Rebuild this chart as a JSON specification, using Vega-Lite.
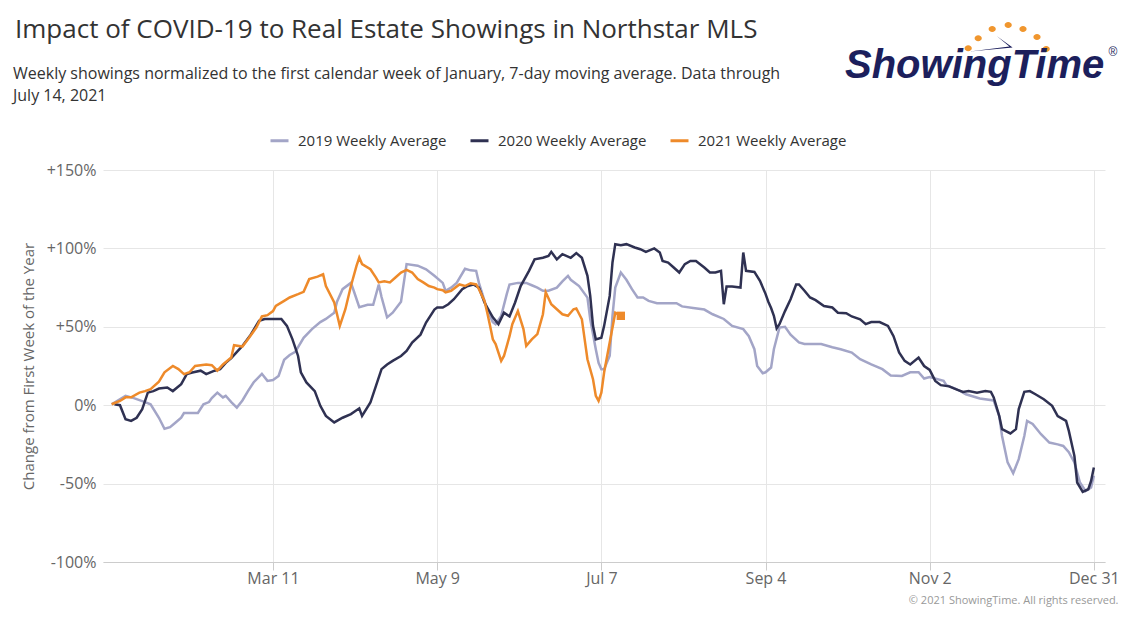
{
  "$schema": "https://vega.github.io/schema/vega-lite/v6.json",
  "width": 1002,
  "height": 392,
  "autosize": {"type": "none"},
  "padding": {"left": 103, "top": 170, "right": 38, "bottom": 58},
  "background": "#ffffff",
  "datasets": {
    "y2019": [
      {"day": 11, "pct": 0.6}, {"day": 16, "pct": 6}, {"day": 19, "pct": 4.5}, {"day": 23, "pct": 2}, {"day": 25, "pct": 0.6},
      {"day": 28, "pct": -8}, {"day": 30, "pct": -15}, {"day": 32, "pct": -14}, {"day": 34, "pct": -11}, {"day": 36, "pct": -8},
      {"day": 37, "pct": -5}, {"day": 39, "pct": -5}, {"day": 42, "pct": -5}, {"day": 44, "pct": 0.6}, {"day": 46, "pct": 2},
      {"day": 47, "pct": 4.5}, {"day": 49, "pct": 8}, {"day": 51, "pct": 5}, {"day": 52, "pct": 6}, {"day": 54, "pct": 2},
      {"day": 56, "pct": -1.5}, {"day": 58, "pct": 3}, {"day": 60, "pct": 9}, {"day": 62, "pct": 14.5}, {"day": 65, "pct": 20},
      {"day": 67, "pct": 15.5}, {"day": 69, "pct": 16}, {"day": 71, "pct": 18.7}, {"day": 73, "pct": 29}, {"day": 75, "pct": 32},
      {"day": 77, "pct": 34}, {"day": 80, "pct": 43}, {"day": 83, "pct": 48.5}, {"day": 86, "pct": 53}, {"day": 88, "pct": 55},
      {"day": 91, "pct": 59}, {"day": 92, "pct": 66}, {"day": 94, "pct": 74}, {"day": 97, "pct": 78}, {"day": 98, "pct": 73},
      {"day": 100, "pct": 62.5}, {"day": 103, "pct": 64}, {"day": 105, "pct": 64}, {"day": 107, "pct": 77}, {"day": 108, "pct": 69},
      {"day": 110, "pct": 56}, {"day": 112, "pct": 59}, {"day": 115, "pct": 66}, {"day": 117, "pct": 90}, {"day": 121, "pct": 89},
      {"day": 124, "pct": 86.7}, {"day": 127, "pct": 82.5}, {"day": 130, "pct": 78}, {"day": 131, "pct": 73}, {"day": 133, "pct": 75},
      {"day": 135, "pct": 78}, {"day": 138, "pct": 87}, {"day": 140, "pct": 86}, {"day": 142, "pct": 85.7}, {"day": 143, "pct": 78},
      {"day": 145, "pct": 66.5}, {"day": 146, "pct": 61}, {"day": 148, "pct": 53}, {"day": 149, "pct": 51.6}, {"day": 151, "pct": 57},
      {"day": 153, "pct": 70.8}, {"day": 154, "pct": 77}, {"day": 157, "pct": 78}, {"day": 160, "pct": 78}, {"day": 162, "pct": 76.5},
      {"day": 164, "pct": 75}, {"day": 166, "pct": 73}, {"day": 168, "pct": 73}, {"day": 171, "pct": 75}, {"day": 173, "pct": 79},
      {"day": 175, "pct": 82.5}, {"day": 176, "pct": 80}, {"day": 179, "pct": 76}, {"day": 182, "pct": 68.6}, {"day": 183, "pct": 55},
      {"day": 185, "pct": 35.7}, {"day": 186, "pct": 27}, {"day": 187, "pct": 23}, {"day": 188, "pct": 23}, {"day": 190, "pct": 31.5},
      {"day": 191, "pct": 57}, {"day": 192, "pct": 75}, {"day": 194, "pct": 84.6}, {"day": 196, "pct": 80}, {"day": 198, "pct": 74},
      {"day": 200, "pct": 68.7}, {"day": 202, "pct": 68.7}, {"day": 204, "pct": 66.5}, {"day": 207, "pct": 65}, {"day": 210, "pct": 65},
      {"day": 214, "pct": 65}, {"day": 216, "pct": 63}, {"day": 220, "pct": 62}, {"day": 224, "pct": 61}, {"day": 227, "pct": 58},
      {"day": 231, "pct": 55}, {"day": 234, "pct": 50.6}, {"day": 238, "pct": 48.5}, {"day": 240, "pct": 44}, {"day": 242, "pct": 35.7},
      {"day": 243, "pct": 25}, {"day": 245, "pct": 20.4}, {"day": 246, "pct": 21}, {"day": 248, "pct": 24}, {"day": 249, "pct": 35.7},
      {"day": 251, "pct": 49.5}, {"day": 253, "pct": 50}, {"day": 255, "pct": 45}, {"day": 258, "pct": 40}, {"day": 260, "pct": 39},
      {"day": 263, "pct": 39}, {"day": 266, "pct": 39}, {"day": 270, "pct": 37}, {"day": 273, "pct": 35.7}, {"day": 277, "pct": 33.6},
      {"day": 280, "pct": 29.3}, {"day": 284, "pct": 26}, {"day": 288, "pct": 23}, {"day": 291, "pct": 19}, {"day": 295, "pct": 18.7},
      {"day": 298, "pct": 21}, {"day": 301, "pct": 21}, {"day": 303, "pct": 17}, {"day": 305, "pct": 18}, {"day": 310, "pct": 15.5},
      {"day": 311, "pct": 12.8}, {"day": 315, "pct": 10}, {"day": 318, "pct": 7}, {"day": 323, "pct": 4.3}, {"day": 328, "pct": 3},
      {"day": 330, "pct": -7}, {"day": 331, "pct": -19.6}, {"day": 333, "pct": -36.5}, {"day": 335, "pct": -43.4}, {"day": 337, "pct": -34.4},
      {"day": 339, "pct": -19.6}, {"day": 340, "pct": -10}, {"day": 342, "pct": -12}, {"day": 345, "pct": -18.5}, {"day": 348, "pct": -23.8},
      {"day": 351, "pct": -25}, {"day": 353, "pct": -26}, {"day": 355, "pct": -30}, {"day": 357, "pct": -36.5}, {"day": 359, "pct": -49.3},
      {"day": 361, "pct": -54.7}, {"day": 363, "pct": -52.5}, {"day": 364, "pct": -45}
    ],
    "y2020": [
      {"day": 12, "pct": 0.6}, {"day": 14, "pct": 0}, {"day": 16, "pct": -9}, {"day": 18, "pct": -10}, {"day": 20, "pct": -8},
      {"day": 22, "pct": -2.5}, {"day": 24, "pct": 8}, {"day": 26, "pct": 9}, {"day": 28, "pct": 10.6}, {"day": 31, "pct": 11.3},
      {"day": 33, "pct": 9}, {"day": 36, "pct": 13.4}, {"day": 38, "pct": 19.8}, {"day": 40, "pct": 20.8}, {"day": 43, "pct": 22},
      {"day": 45, "pct": 19.8}, {"day": 48, "pct": 22}, {"day": 50, "pct": 23}, {"day": 52, "pct": 27}, {"day": 54, "pct": 30},
      {"day": 58, "pct": 37.8}, {"day": 61, "pct": 45}, {"day": 64, "pct": 53.8}, {"day": 66, "pct": 55}, {"day": 69, "pct": 55},
      {"day": 72, "pct": 55}, {"day": 74, "pct": 50.6}, {"day": 76, "pct": 42}, {"day": 78, "pct": 31.4}, {"day": 79, "pct": 21},
      {"day": 81, "pct": 14.5}, {"day": 84, "pct": 9}, {"day": 86, "pct": -0.4}, {"day": 88, "pct": -6.8}, {"day": 91, "pct": -11},
      {"day": 94, "pct": -8}, {"day": 97, "pct": -5.7}, {"day": 100, "pct": -2}, {"day": 101, "pct": -6.8}, {"day": 104, "pct": 1.7},
      {"day": 106, "pct": 12.3}, {"day": 108, "pct": 23}, {"day": 110, "pct": 26}, {"day": 112, "pct": 28.3}, {"day": 115, "pct": 31.4},
      {"day": 117, "pct": 34.6}, {"day": 119, "pct": 40}, {"day": 122, "pct": 45}, {"day": 124, "pct": 52.7}, {"day": 127, "pct": 61},
      {"day": 128, "pct": 62.3}, {"day": 130, "pct": 62.3}, {"day": 132, "pct": 64.4}, {"day": 134, "pct": 67.6}, {"day": 137, "pct": 74},
      {"day": 139, "pct": 76}, {"day": 141, "pct": 77}, {"day": 143, "pct": 75}, {"day": 145, "pct": 65.5}, {"day": 146, "pct": 62.3},
      {"day": 148, "pct": 56}, {"day": 150, "pct": 51.7}, {"day": 152, "pct": 59}, {"day": 154, "pct": 56.6}, {"day": 156, "pct": 65.5},
      {"day": 158, "pct": 76}, {"day": 161, "pct": 85.7}, {"day": 163, "pct": 93}, {"day": 166, "pct": 94}, {"day": 168, "pct": 95.2},
      {"day": 169, "pct": 97.8}, {"day": 171, "pct": 93}, {"day": 173, "pct": 96.3}, {"day": 176, "pct": 94}, {"day": 178, "pct": 97},
      {"day": 180, "pct": 94}, {"day": 182, "pct": 82.5}, {"day": 183, "pct": 69.7}, {"day": 184, "pct": 50.6}, {"day": 185, "pct": 42},
      {"day": 187, "pct": 43}, {"day": 188, "pct": 50.6}, {"day": 190, "pct": 69.7}, {"day": 191, "pct": 91}, {"day": 192, "pct": 102.7},
      {"day": 194, "pct": 102}, {"day": 196, "pct": 102.7}, {"day": 199, "pct": 100.6}, {"day": 201, "pct": 99.5}, {"day": 203, "pct": 97.8},
      {"day": 206, "pct": 100}, {"day": 208, "pct": 97.4}, {"day": 209, "pct": 92}, {"day": 211, "pct": 91}, {"day": 213, "pct": 87.8},
      {"day": 215, "pct": 84.6}, {"day": 217, "pct": 90}, {"day": 219, "pct": 92}, {"day": 221, "pct": 92}, {"day": 224, "pct": 87.8},
      {"day": 226, "pct": 84.6}, {"day": 228, "pct": 84.6}, {"day": 230, "pct": 85.7}, {"day": 231, "pct": 64.4}, {"day": 232, "pct": 75.7},
      {"day": 234, "pct": 75.7}, {"day": 237, "pct": 75}, {"day": 238, "pct": 97.4}, {"day": 239, "pct": 85.7}, {"day": 242, "pct": 85},
      {"day": 244, "pct": 79.3}, {"day": 246, "pct": 71}, {"day": 247, "pct": 66}, {"day": 248, "pct": 62}, {"day": 249, "pct": 57},
      {"day": 250, "pct": 49}, {"day": 251, "pct": 51.7}, {"day": 253, "pct": 60}, {"day": 255, "pct": 67.6}, {"day": 257, "pct": 77},
      {"day": 258, "pct": 77}, {"day": 260, "pct": 73}, {"day": 262, "pct": 68.7}, {"day": 264, "pct": 67}, {"day": 267, "pct": 63.3},
      {"day": 270, "pct": 62.3}, {"day": 272, "pct": 59}, {"day": 275, "pct": 58.7}, {"day": 277, "pct": 56.6}, {"day": 280, "pct": 54.8},
      {"day": 282, "pct": 51.7}, {"day": 284, "pct": 53}, {"day": 287, "pct": 53}, {"day": 290, "pct": 50.6}, {"day": 292, "pct": 44},
      {"day": 294, "pct": 33.6}, {"day": 296, "pct": 28.3}, {"day": 298, "pct": 26}, {"day": 301, "pct": 30.4}, {"day": 303, "pct": 25},
      {"day": 305, "pct": 22.5}, {"day": 307, "pct": 15.5}, {"day": 309, "pct": 12.8}, {"day": 312, "pct": 12}, {"day": 315, "pct": 9.8},
      {"day": 317, "pct": 8.5}, {"day": 319, "pct": 9}, {"day": 322, "pct": 8}, {"day": 325, "pct": 9}, {"day": 327, "pct": 8.5},
      {"day": 328, "pct": 5}, {"day": 330, "pct": -7}, {"day": 331, "pct": -15.3}, {"day": 334, "pct": -18}, {"day": 336, "pct": -15.3},
      {"day": 337, "pct": -2.5}, {"day": 339, "pct": 8.5}, {"day": 341, "pct": 9}, {"day": 343, "pct": 7}, {"day": 346, "pct": 3.8},
      {"day": 349, "pct": -0.4}, {"day": 351, "pct": -7}, {"day": 354, "pct": -10}, {"day": 355, "pct": -16.4}, {"day": 357, "pct": -32.3},
      {"day": 358, "pct": -49.3}, {"day": 360, "pct": -55.3}, {"day": 362, "pct": -53.6}, {"day": 363, "pct": -48.3}, {"day": 364, "pct": -39.7}
    ],
    "y2021": [
      {"day": 11, "pct": 0.6}, {"day": 14, "pct": 2.7}, {"day": 16, "pct": 5}, {"day": 18, "pct": 5}, {"day": 21, "pct": 8},
      {"day": 23, "pct": 9}, {"day": 25, "pct": 10.2}, {"day": 28, "pct": 15}, {"day": 30, "pct": 21}, {"day": 33, "pct": 25},
      {"day": 35, "pct": 23}, {"day": 37, "pct": 19.8}, {"day": 39, "pct": 21}, {"day": 41, "pct": 25}, {"day": 45, "pct": 26},
      {"day": 47, "pct": 25.5}, {"day": 49, "pct": 22}, {"day": 51, "pct": 26}, {"day": 54, "pct": 30.4}, {"day": 55, "pct": 38.3},
      {"day": 58, "pct": 37.4}, {"day": 60, "pct": 42}, {"day": 63, "pct": 49.5}, {"day": 65, "pct": 56.6}, {"day": 67, "pct": 57.4},
      {"day": 69, "pct": 60}, {"day": 70, "pct": 63.3}, {"day": 73, "pct": 66.5}, {"day": 75, "pct": 68.7}, {"day": 78, "pct": 70.8},
      {"day": 80, "pct": 72.3}, {"day": 82, "pct": 80.4}, {"day": 85, "pct": 82}, {"day": 87, "pct": 83.5}, {"day": 88, "pct": 76},
      {"day": 91, "pct": 65.5}, {"day": 93, "pct": 50.6}, {"day": 95, "pct": 61.2}, {"day": 97, "pct": 76}, {"day": 99, "pct": 88.8},
      {"day": 100, "pct": 94.2}, {"day": 101, "pct": 90}, {"day": 104, "pct": 86.7}, {"day": 106, "pct": 81.4}, {"day": 107, "pct": 78.3},
      {"day": 109, "pct": 79}, {"day": 111, "pct": 78.3}, {"day": 113, "pct": 81.4}, {"day": 115, "pct": 84.6}, {"day": 117, "pct": 86.3},
      {"day": 119, "pct": 84.6}, {"day": 121, "pct": 80.4}, {"day": 123, "pct": 78.3}, {"day": 125, "pct": 76}, {"day": 127, "pct": 75},
      {"day": 128, "pct": 74}, {"day": 130, "pct": 73.3}, {"day": 131, "pct": 72}, {"day": 133, "pct": 73}, {"day": 136, "pct": 77},
      {"day": 138, "pct": 76}, {"day": 140, "pct": 77.8}, {"day": 142, "pct": 77}, {"day": 143, "pct": 74}, {"day": 145, "pct": 66.5},
      {"day": 146, "pct": 59}, {"day": 147, "pct": 50.6}, {"day": 148, "pct": 42}, {"day": 149, "pct": 39}, {"day": 151, "pct": 28.3},
      {"day": 152, "pct": 31.4}, {"day": 154, "pct": 44}, {"day": 155, "pct": 51.7}, {"day": 157, "pct": 60}, {"day": 159, "pct": 48.5},
      {"day": 160, "pct": 37.8}, {"day": 162, "pct": 42}, {"day": 164, "pct": 45.3}, {"day": 166, "pct": 58}, {"day": 167, "pct": 72},
      {"day": 169, "pct": 64.4}, {"day": 171, "pct": 61.2}, {"day": 173, "pct": 58}, {"day": 175, "pct": 57}, {"day": 177, "pct": 61.2},
      {"day": 178, "pct": 61.7}, {"day": 180, "pct": 54.8}, {"day": 181, "pct": 42}, {"day": 182, "pct": 29.3}, {"day": 184, "pct": 16.6},
      {"day": 185, "pct": 6}, {"day": 186, "pct": 2.7}, {"day": 187, "pct": 8}, {"day": 188, "pct": 21}, {"day": 190, "pct": 40},
      {"day": 192, "pct": 59}, {"day": 194, "pct": 57}
    ],
    "latest2021": [{"day": 194, "pct": 57}],
    "header": [{"brand": "ShowingTime"}]
  },
  "encoding": {
    "x": {
      "field": "day",
      "type": "quantitative",
      "scale": {"domain": [7.9, 368], "nice": false, "zero": false},
      "axis": {
        "values": [69, 128, 187, 246, 305, 364],
        "labelExpr": "timeFormat(datetime(2021, 0, 1 + datum.value), '%b %-d')",
        "grid": true,
        "gridColor": "#e6e6e6",
        "domainColor": "#cccccc",
        "tickColor": "#cccccc",
        "tickSize": 8,
        "labelFont": "Open Sans",
        "labelFontSize": 16,
        "labelColor": "#666666",
        "labelPadding": 0,
        "title": "© 2021 ShowingTime. All rights reserved.",
        "titleFont": "Open Sans",
        "titleFontSize": 11,
        "titleFontWeight": "normal",
        "titleColor": "#999999",
        "titleAnchor": "end",
        "titleAlign": "right",
        "titleBaseline": "alphabetic",
        "titleX": 1015,
        "titleY": 41
      }
    },
    "y": {
      "field": "pct",
      "type": "quantitative",
      "scale": {"domain": [-100, 150], "nice": false},
      "axis": {
        "values": [-100, -50, 0, 50, 100, 150],
        "labelExpr": "datum.value > 0 ? '+' + datum.value + '%' : datum.value + '%'",
        "grid": true,
        "gridColor": "#e6e6e6",
        "domain": false,
        "ticks": false,
        "labelFont": "Open Sans",
        "labelFontSize": 16,
        "labelColor": "#666666",
        "labelPadding": 7,
        "title": "Change from First Week of the Year",
        "titleFont": "Open Sans",
        "titleFontSize": 15,
        "titleFontWeight": "normal",
        "titleColor": "#666666",
        "titlePadding": 10
      }
    }
  },
  "layer": [
    {
      "mark": {"type": "rule", "color": "#b3b3b3", "strokeWidth": 1.5},
      "encoding": {"x": null, "y": {"datum": 0}}
    },
    {
      "data": {"name": "y2019"},
      "mark": {"type": "line", "strokeWidth": 2.5, "interpolate": "linear"},
      "encoding": {
        "color": {
          "datum": "2019 Weekly Average",
          "scale": {
            "domain": ["2019 Weekly Average", "2020 Weekly Average", "2021 Weekly Average"],
            "range": ["#a3a5c7", "#2f3152", "#ee8a2a"]
          },
          "legend": {
            "orient": "none",
            "legendX": 166,
            "legendY": -40,
            "direction": "horizontal",
            "title": null,
            "symbolType": "stroke",
            "symbolSize": 324,
            "symbolStrokeWidth": 3,
            "labelFont": "Open Sans",
            "labelFontSize": 15,
            "labelColor": "#333333",
            "labelOffset": 8,
            "columnPadding": 17
          }
        }
      }
    },
    {
      "data": {"name": "y2020"},
      "mark": {"type": "line", "strokeWidth": 2.5, "interpolate": "linear"},
      "encoding": {"color": {"datum": "2020 Weekly Average"}}
    },
    {
      "data": {"name": "y2021"},
      "mark": {"type": "line", "strokeWidth": 2.5, "interpolate": "linear"},
      "encoding": {"color": {"datum": "2021 Weekly Average"}}
    },
    {
      "data": {"name": "latest2021"},
      "mark": {"type": "point", "shape": "square", "filled": true, "size": 70, "opacity": 1},
      "encoding": {"color": {"datum": "2021 Weekly Average"}}
    },
    {
      "data": {"name": "header"},
      "mark": {
        "type": "text",
        "text": "Impact of COVID-19 to Real Estate Showings in Northstar MLS",
        "font": "Open Sans",
        "fontSize": 26,
        "color": "#333333",
        "align": "left",
        "baseline": "alphabetic",
        "x": -88,
        "y": -132
      },
      "encoding": {"x": null, "y": null}
    },
    {
      "data": {"name": "header"},
      "mark": {
        "type": "text",
        "text": ["Weekly showings normalized to the first calendar week of January, 7-day moving average. Data through", "July 14, 2021"],
        "font": "Open Sans",
        "fontSize": 16,
        "lineHeight": 22,
        "color": "#333333",
        "align": "left",
        "baseline": "alphabetic",
        "x": -90,
        "y": -91
      },
      "encoding": {"x": null, "y": null}
    },
    {
      "data": {"name": "header"},
      "mark": {
        "type": "point",
        "shape": "M-1.06,0.28a0.09,0.075 0 1,0 0.18,0a0.09,0.075 0 1,0 -0.18,0M-0.81,0.03a0.09,0.075 0 1,0 0.18,0a0.09,0.075 0 1,0 -0.18,0M-0.46,-0.2a0.09,0.075 0 1,0 0.18,0a0.09,0.075 0 1,0 -0.18,0M-0.06,-0.3a0.09,0.075 0 1,0 0.18,0a0.09,0.075 0 1,0 -0.18,0M0.31,-0.2a0.09,0.075 0 1,0 0.18,0a0.09,0.075 0 1,0 -0.18,0M0.66,0a0.09,0.075 0 1,0 0.18,0a0.09,0.075 0 1,0 -0.18,0M0.89,0.3a0.09,0.075 0 1,0 0.18,0a0.09,0.075 0 1,0 -0.18,0Z",
        "filled": true,
        "opacity": 1,
        "color": "#f0962e",
        "size": 6400,
        "x": 904,
        "y": -133
      },
      "encoding": {"x": null, "y": null}
    },
    {
      "data": {"name": "header"},
      "mark": {
        "type": "point",
        "shape": "M-0.25,-0.02L0.14,0.26L-0.93,0.36L0.06,0.24Z",
        "filled": true,
        "opacity": 1,
        "color": "#1c1f5c",
        "size": 6400,
        "x": 904,
        "y": -133
      },
      "encoding": {"x": null, "y": null}
    },
    {
      "data": {"name": "header"},
      "mark": {
        "type": "text",
        "font": "Liberation Sans",
        "fontSize": 40,
        "fontWeight": "bold",
        "fontStyle": "italic",
        "color": "#1c1f5c",
        "align": "left",
        "baseline": "alphabetic",
        "x": 742,
        "y": -92
      },
      "encoding": {"x": null, "y": null, "text": {"field": "brand"}}
    },
    {
      "data": {"name": "header"},
      "mark": {
        "type": "text",
        "text": "®",
        "font": "Liberation Sans",
        "fontSize": 12,
        "color": "#1c1f5c",
        "align": "center",
        "baseline": "middle",
        "x": 1010,
        "y": -118
      },
      "encoding": {"x": null, "y": null}
    }
  ],
  "config": {
    "view": {"stroke": null},
    "font": "Open Sans"
  }
}
